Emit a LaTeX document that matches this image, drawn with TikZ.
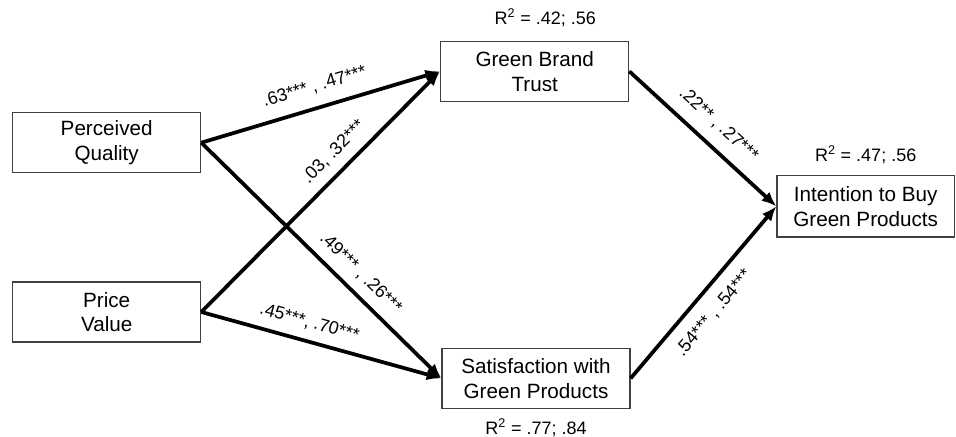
\documentclass[tikz,border=0pt]{standalone}
\usepackage{fontspec}
\setmainfont{Liberation Sans}
\usetikzlibrary{arrows.meta, positioning}

\begin{document}
\begin{tikzpicture}[node distance=1cm,
    box/.style={rectangle, draw=black!75, line width=1pt, minimum width=141pt, minimum height=45pt, inner sep=2pt, align=center, font=\fontsize{15.5}{18.5}\selectfont},
    rsq/.style={inner sep=0pt, font=\fontsize{13.5}{16}\selectfont},
    coef/.style={sloped, inner sep=0pt, font=\fontsize{13.5}{16}\selectfont},
    arrow/.style={-{Latex[length=11pt, width=9pt]}, line width=2.8pt}]

    % Predictors
    \node[box] (pq) {Perceived\\Quality};
    \node[box, below=81pt of pq] (pv) {Price\\Value};

    % Mediators
    \node[box, above right=7.5pt and 179pt of pq] (gbt) {Green Brand\\Trust};
    \node[box, below right=3.75pt and 180pt of pv] (swgp) {Satisfaction with\\Green Products};

    % Outcome
    \node[box, minimum width=133pt, minimum height=46pt, below right=54.75pt and 110.25pt of gbt] (itb) {Intention to Buy\\Green Products};

    % R-squared
    \node[rsq, above=10pt of gbt, xshift=8pt] (gbtr) {R\textsuperscript{2} = .42; .56};
    \node[rsq, below=7pt of swgp] (swgpr) {R\textsuperscript{2} = .77; .84};
    \node[rsq, above=8pt of itb] (itbr) {R\textsuperscript{2} = .47; .56};

    % Paths
    \draw[arrow] (pq.east) -- node[coef, pos=0.5, yshift=16pt] (pqgbt) {.63*** , .47***} (gbt.west);
    \draw[arrow] (pv.east) -- node[coef, pos=0.61, yshift=14pt] (pvgbt) {.03, .32***} (gbt.west);
    \draw[arrow] (pq.east) -- node[coef, pos=0.61, yshift=14pt] (pqswgp) {.49*** , .26***} (swgp.west);
    \draw[arrow] (pv.east) -- node[coef, pos=0.43, yshift=14pt] (pvswgp) {.45***, .70***} (swgp.west);
    \draw[arrow] (gbt.east) -- node[coef, pos=0.51, yshift=16pt] (gbtitb) {.22** , .27***} (itb.west);
    \draw[arrow] (swgp.east) -- node[coef, pos=0.46, yshift=-16pt] (swgpitb) {.54*** , .54***} (itb.west);

    % Frame
    \path[use as bounding box] ([xshift=-9pt, yshift=84pt]pq.north west) rectangle ++(717pt,-325.5pt);
\end{tikzpicture}
\end{document}
